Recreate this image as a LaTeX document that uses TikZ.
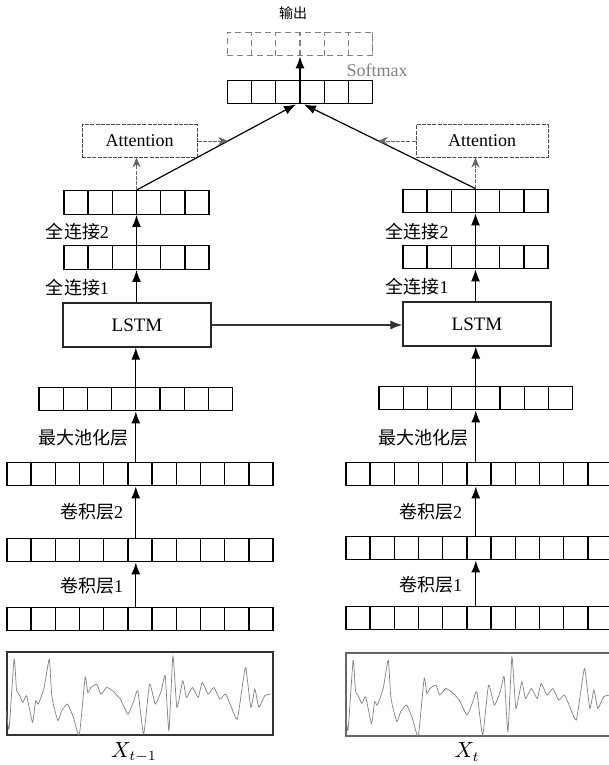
\documentclass[tikz,border=0pt]{standalone}
\usepackage{fontspec}
\setmainfont{Liberation Serif}
\newfontfamily\cjk{Noto Sans CJK SC}
\usetikzlibrary{calc,arrows.meta,positioning}
\newcommand{\cw}{12.1pt}
\newcommand{\drawwave}{%
  \draw[wave] plot[smooth,tension=0.3] coordinates {(0.000,0.30) (0.010,0.08) (0.029,0.92) (0.038,0.55) (0.047,0.50) (0.062,0.40)
    (0.076,0.48) (0.098,0.16) (0.110,0.42) (0.120,0.38) (0.142,0.58) (0.161,0.92) (0.170,0.50) (0.179,0.34) (0.194,0.18)
    (0.208,0.30) (0.230,0.38) (0.252,0.22) (0.274,0.01) (0.296,0.70) (0.306,0.52) (0.318,0.58) (0.340,0.62)
    (0.355,0.50) (0.377,0.58) (0.399,0.54) (0.428,0.44) (0.457,0.26) (0.479,0.42) (0.494,0.54)
    (0.516,0.02) (0.538,0.62) (0.560,0.38) (0.582,0.54) (0.597,0.72) (0.611,0.06) (0.626,0.96)
    (0.641,0.34) (0.663,0.66) (0.677,0.46) (0.699,0.58) (0.721,0.46) (0.736,0.64) (0.758,0.50)
    (0.780,0.58) (0.802,0.44) (0.824,0.50) (0.846,0.34) (0.868,0.20) (0.890,0.66) (0.900,0.82)
    (0.919,0.34) (0.934,0.56) (0.949,0.34) (0.971,0.48) (0.993,0.50)};}

\begin{document}
\begin{tikzpicture}[x=0.5pt,y=-0.5pt,>={Latex[length=6pt,width=4.5pt]},font=\fontsize{9}{11}\selectfont,
  cellline/.style={},
  cells/.style={draw,line width=0.65pt,inner sep=0pt,minimum width=#1*\cw,minimum height=11.75pt,
    path picture={\foreach \k in {1,...,#1}
      \draw[line width=0.65pt,cellline] ([xshift=\k*\cw]path picture bounding box.south west) -- ([xshift=\k*\cw]path picture bounding box.north west);}},
  outrow/.style={cells=6,draw=gray,densely dashed,cellline/.style={gray,densely dashed}},
  lstm/.style={draw=black!85,line width=0.6pt,minimum width=74pt,minimum height=22pt,font=\fontsize{9.5}{11}\selectfont},
  att/.style={draw=black!70,dash pattern=on 2pt off 0.6pt,line width=0.5pt,minimum height=16pt},
  sig/.style={draw=black!80,line width=0.6pt,minimum width=133pt,minimum height=41.5pt},
  lbl/.style={inner sep=0pt},
  arr/.style={->,line width=0.6pt},
  garr/.style={-{Stealth[length=5pt,width=4pt]},draw=black!60,dash pattern=on 2pt off 0.6pt,line width=0.5pt},
  wave/.style={gray,line width=0.35pt}]

  \useasboundingbox (0,0) rectangle (609,765);

  % output part
  \node[outrow] (out) at (300,44) {};
  \node[cells=6] (soft) at (300,92) {};
  \node[lbl,font=\fontsize{7}{8}\selectfont\cjk] (outtxt) at (293,13) {输出};
  \node[lbl,text=gray] (softtxt) at (377,70) {Softmax};

  % left branch
  \node[att,minimum width=57.5pt] (attL) at (139.5,141) {Attention};
  \node[cells=6] (fc2L) at (136.5,202.5) {};
  \node[cells=6] (fc1L) at (136.5,257.5) {};
  \node[lstm] (lstmL) at (137,325) {LSTM};
  \node[cells=8] (poolL) at (135.8,399) {};
  \node[cells=11] (conv2L) at (140,474) {};
  \node[cells=11] (conv1L) at (140,550) {};
  \node[cells=11] (inL) at (140,619) {};
  \node[sig] (sigL) at (140,693.5) {};
  \node[lbl,font=\fontsize{10.5}{12}\selectfont] (xL) at (134,752) {$X_{t-1}$};

  \node[lbl] at (77.5,232) {{\cjk 全连接}2};
  \node[lbl] at (77.5,288) {{\cjk 全连接}1};
  \node[lbl,font=\fontsize{9}{11}\selectfont\cjk] at (83.5,438) {最大池化层};
  \node[lbl] at (91.5,512) {{\cjk 卷积层}2};
  \node[lbl] at (91.5,586) {{\cjk 卷积层}1};

  % right branch
  \node[att,minimum width=66pt] (attR) at (482,141) {Attention};
  \node[cells=6] (fc2R) at (475.5,201) {};
  \node[cells=6] (fc1R) at (475.5,257) {};
  \node[lstm] (lstmR) at (477,324) {LSTM};
  \node[cells=8] (poolR) at (475.8,398) {};
  \node[cells=11] (conv2R) at (479,474) {};
  \node[cells=11] (conv1R) at (479,548) {};
  \node[cells=11] (inR) at (479,618) {};
  \node[sig,draw=black!60] (sigR) at (479,694.5) {};
  \node[lbl,font=\fontsize{10.5}{12}\selectfont] (xR) at (467,752) {$X_{t}$};

  \node[lbl] at (417,232) {{\cjk 全连接}2};
  \node[lbl] at (417,287) {{\cjk 全连接}1};
  \node[lbl,font=\fontsize{9}{11}\selectfont\cjk] at (423.5,438) {最大池化层};
  \node[lbl] at (430.5,512) {{\cjk 卷积层}2};
  \node[lbl] at (430.5,585) {{\cjk 卷积层}1};

  % signals
  \begin{scope}[shift={(sigL.south west)},x=133pt,y=41.5pt]
    \clip (0,0) rectangle (1,1);
    \drawwave
  \end{scope}
  \begin{scope}[shift={(sigR.south west)},x=133pt,y=41.5pt]
    \clip (0,0) rectangle (1,1);
    \drawwave
  \end{scope}

  % vertical arrows
  \draw[arr] (inL.north -| poolL) -- (conv1L.south -| poolL);
  \draw[arr] (conv1L.north -| poolL) -- (conv2L.south -| poolL);
  \draw[arr] (conv2L.north -| poolL) -- (poolL.south);
  \draw[arr] (poolL.north) -- (lstmL.south -| poolL);
  \draw[arr] (lstmL.north -| fc1L) -- (fc1L.south);
  \draw[arr] (fc1L.north) -- (fc2L.south);

  \draw[arr] (inR.north -| poolR) -- (conv1R.south -| poolR);
  \draw[arr] (conv1R.north -| poolR) -- (conv2R.south -| poolR);
  \draw[arr] (conv2R.north -| poolR) -- (poolR.south);
  \draw[arr] (poolR.north) -- (lstmR.south -| poolR);
  \draw[arr] (lstmR.north -| fc1R) -- (fc1R.south);
  \draw[arr] (fc1R.north) -- (fc2R.south);

  \draw[->,draw=black!80,line width=0.6pt] (lstmL.east) -- (lstmR.west |- lstmL.east);

  % to softmax
  \coordinate (inSL) at ([xshift=-2pt]soft.south);
  \coordinate (inSR) at ([xshift=2pt]soft.south);
  \draw[arr] (fc2L.north) -- (inSL);
  \draw[arr] (fc2R.north) -- (inSR);
  \draw[arr] (soft.north) -- (out.south);

  % attention
  \draw[garr] (fc2L.north) -- (fc2L.north |- attL.south);
  \draw[garr] (fc2R.north) -- (fc2R.north |- attR.south);
  \draw[garr] (attL.east) -- (attL.east -| {$(fc2L.north)!0.575!(inSL)$});
  \draw[garr] (attR.west) -- (attR.west -| {$(fc2R.north)!0.57!(inSR)$});

\end{tikzpicture}
\end{document}
